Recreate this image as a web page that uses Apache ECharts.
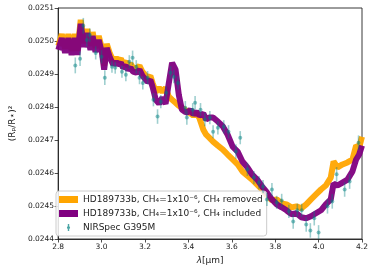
<!DOCTYPE html>
<html><head><meta charset="utf-8">
<script src="https://cdn.jsdelivr.net/npm/echarts@6/dist/echarts.min.js"></script>
<style>html,body{margin:0;padding:0;background:#fff}#c{width:374px;height:272px}</style>
</head><body><div id="c"></div>
<script>
var modelWl = [2.801,2.817,2.832,2.847,2.862,2.877,2.889,2.904,2.919,2.934,2.949,2.959,2.972,2.987,3.002,3.012,3.024,3.039,3.054,3.067,3.077,3.089,3.099,3.112,3.122,3.134,3.145,3.160,3.175,3.188,3.197,3.212,3.225,3.235,
3.250,3.265,3.280,3.295,3.310,3.325,3.341,3.356,3.370,3.383,3.396,3.410,3.423,3.437,3.450,3.469,3.482,3.496,3.514,3.536,3.559,3.581,3.604,3.627,3.649,3.672,3.694,3.717,3.740,3.762,3.785,3.807,3.830,3.852,3.875,3.898,3.920,3.943,3.965,3.988,4.011,4.033,4.056,4.069,4.087,4.110,4.133,4.156,4.173,4.187,4.200];
var ch4Included = [0.024973,0.025009,0.024964,0.025009,0.024958,0.025009,0.024958,0.025052,0.024982,0.025024,0.024973,0.025015,0.024967,0.025003,0.024964,0.024913,0.024979,0.024949,0.024928,0.024937,0.024928,0.024934,0.024919,0.024925,0.024913,0.024919,0.024907,0.024904,0.024913,0.024895,0.024892,0.024876,0.024882,0.024861,
0.024822,0.024810,0.024828,0.024810,0.024873,0.024934,0.024913,0.024837,0.024792,0.024786,0.024783,0.024792,0.024777,0.024786,0.024774,0.024780,0.024762,0.024768,0.024768,0.024756,0.024741,0.024716,0.024680,0.024665,0.024635,0.024617,0.024595,0.024580,0.024559,0.024541,0.024520,0.024505,0.024496,0.024487,0.024475,0.024478,0.024466,0.024463,0.024469,0.024478,0.024487,0.024505,0.024520,0.024568,0.024562,0.024571,0.024580,0.024605,0.024641,0.024656,0.024683];
var ch4Removed = [0.024985,0.025021,0.024976,0.025021,0.024970,0.025021,0.024970,0.025064,0.024994,0.025036,0.024985,0.025027,0.024979,0.025015,0.024976,0.024925,0.024991,0.024961,0.024940,0.024949,0.024940,0.024946,0.024931,0.024937,0.024925,0.024931,0.024919,0.024916,0.024925,0.024907,0.024904,0.024888,0.024894,0.024873,
0.024846,0.024858,0.024846,0.024858,0.024831,0.024822,0.024813,0.024804,0.024798,0.024792,0.024786,0.024780,0.024774,0.024780,0.024768,0.024731,0.024716,0.024707,0.024695,0.024683,0.024671,0.024656,0.024641,0.024626,0.024605,0.024592,0.024580,0.024565,0.024550,0.024532,0.024517,0.024520,0.024508,0.024505,0.024496,0.024499,0.024493,0.024505,0.024520,0.024535,0.024550,0.024562,0.024586,0.024635,0.024617,0.024626,0.024632,0.024641,0.024683,0.024677,0.024710];
var obsWl = [2.879,2.901,2.916,2.932,2.946,2.973,3.000,3.015,3.048,3.063,3.094,3.112,3.128,3.143,3.160,3.175,3.190,3.212,3.239,3.258,3.273,3.298,3.318,3.333,3.352,3.386,3.393,3.420,3.431,3.456,3.476,3.499,3.514,3.536,3.563,3.585,3.619,3.639,3.672,3.702,3.725,3.744,3.762,3.785,3.807,3.830,3.863,3.883,3.902,3.922,3.943,3.962,3.980,4.000,4.041,4.063,4.083,4.120,4.143,4.184];
var obsDepth = [0.024926,0.024946,0.025046,0.025003,0.025018,0.024964,0.024952,0.024889,0.024922,0.024919,0.024907,0.024898,0.024937,0.024949,0.024922,0.024889,0.024873,0.024889,0.024822,0.024771,0.024816,0.024843,0.024904,0.024892,0.024873,0.024798,0.024768,0.024792,0.024813,0.024792,0.024762,0.024768,0.024725,0.024737,0.024740,0.024725,0.024665,0.024707,0.024611,0.024586,0.024571,0.024559,0.024520,0.024550,0.024511,0.024517,0.024484,0.024453,0.024487,0.024487,0.024444,0.024426,0.024463,0.024420,0.024499,0.024514,0.024596,0.024550,0.024574,0.024692];
var obsErr = [0.000024,0.000022,0.000024,0.000020,0.000020,0.000020,0.000020,0.000022,0.000018,0.000018,0.000018,0.000020,0.000020,0.000022,0.000020,0.000020,0.000020,0.000020,0.000020,0.000022,0.000020,0.000020,0.000020,0.000020,0.000020,0.000020,0.000022,0.000020,0.000020,0.000020,0.000020,0.000020,0.000020,0.000020,0.000020,0.000020,0.000022,0.000020,0.000020,0.000020,0.000020,0.000020,0.000020,0.000020,0.000020,0.000020,0.000020,0.000022,0.000020,0.000020,0.000022,0.000022,0.000022,0.000022,0.000022,0.000022,0.000022,0.000022,0.000022,0.000022];
var nameRemoved = 'HD189733b, CH\u2084=1x10\u207B\u2076, CH\u2084 removed';
var nameIncluded = 'HD189733b, CH\u2084=1x10\u207B\u2076, CH\u2084 included';
var nameObs = 'NIRSpec G395M';
var xTicks = {min: 2.8, max: 4.2, interval: 0.2};
var yTicks = {min: 0.0244, max: 0.0251, interval: 0.0001};

function pairs(xs, ys){ return xs.map(function(x,i){ return [x, ys[i]]; }); }
var FONT = 'DejaVu Sans';
var chart = echarts.init(document.getElementById('c'), null, {renderer:'canvas'});
var teal = 'rgba(0,128,128,0.6)';
chart.setOption({
  animation: false,
  grid: {left: 52, right: 12, top: 8, bottom: 33, show: true, borderColor: '#222', borderWidth: 0.9},
  xAxis: {type: 'value', min: xTicks.min, max: xTicks.max, interval: xTicks.interval,
    axisLine: {show: true, onZero: false, lineStyle: {color: '#222', width: 0.9}},
    axisTick: {show: true, length: 3.5, lineStyle: {color: '#222', width: 0.8}},
    splitLine: {show: false},
    axisLabel: {fontFamily: FONT, fontSize: 7.5, color: '#222', margin: 4, formatter: function(v){return v.toFixed(1);}},
    name: '{i|λ}[µm]', nameLocation: 'middle', nameGap: 15,
    nameTextStyle: {fontFamily: FONT, fontSize: 9, color: '#222', rich: {i: {fontStyle: 'italic', fontFamily: FONT, fontSize: 9, color:'#222'}}}
  },
  yAxis: {type: 'value', min: yTicks.min, max: yTicks.max, interval: yTicks.interval,
    axisLine: {show: true, onZero: false, lineStyle: {color: '#222', width: 0.9}},
    axisTick: {show: true, length: 3.5, lineStyle: {color: '#222', width: 0.8}},
    splitLine: {show: false},
    axisLabel: {fontFamily: FONT, fontSize: 7.5, color: '#222', margin: 4, formatter: function(v){return v.toFixed(4);}},
    name: '(R\u209A/R\u22C6)\u00B2', nameLocation: 'middle', nameGap: 35, nameRotate: 90,
    nameTextStyle: {fontFamily: FONT, fontSize: 9, color: '#222'}
  },
  legend: {
    orient: 'vertical', left: 56, top: 191, itemWidth: 19, itemHeight: 7, itemGap: 5,
    padding: [4, 4, 4, 3], backgroundColor: 'rgba(255,255,255,0.85)', borderColor: '#ccc', borderWidth: 1, borderRadius: 3,
    textStyle: {fontFamily: FONT, fontSize: 9, color: '#222'},
    data: [
      {name: nameRemoved, icon: 'rect'},
      {name: nameIncluded, icon: 'rect'},
      {name: nameObs, icon: 'path://M9.3,0 L10.7,0 L10.7,7 L9.3,7 Z M10,1.9 A1.6,1.6 0 1,1 10,5.1 A1.6,1.6 0 1,1 10,1.9 Z',
       itemStyle: {color: 'rgba(0,128,128,0.7)'}}
    ]
  },
  series: [
    {name: nameRemoved, type: 'line', data: pairs(modelWl, ch4Removed), symbol: 'none', color: '#FFA500',
     lineStyle: {width: 6, color: '#FFA500', opacity: 0.95}, z: 2},
    {name: nameIncluded, type: 'line', data: pairs(modelWl, ch4Included), symbol: 'none', color: '#800080',
     lineStyle: {width: 6, color: '#800080', opacity: 0.95}, z: 3},
    {name: nameObs, type: 'custom', z: 4, clip: true, color: 'rgba(0,128,128,0.7)',
     data: obsWl.map(function(x,i){ return [x, obsDepth[i] - obsErr[i], obsDepth[i] + obsErr[i]]; }),
     renderItem: function(params, api){
       var lo = api.coord([api.value(0), api.value(1)]);
       var hi = api.coord([api.value(0), api.value(2)]);
       return {type: 'line', shape: {x1: lo[0], y1: lo[1], x2: hi[0], y2: hi[1]},
               style: {stroke: 'rgba(0,128,128,0.38)', lineWidth: 1.6}};
     }},
    {name: nameObs, type: 'scatter', z: 5, data: pairs(obsWl, obsDepth), symbol: 'circle', symbolSize: 4,
     color: 'rgba(0,128,128,0.7)', itemStyle: {color: teal}}
  ]
});
</script></body></html>
